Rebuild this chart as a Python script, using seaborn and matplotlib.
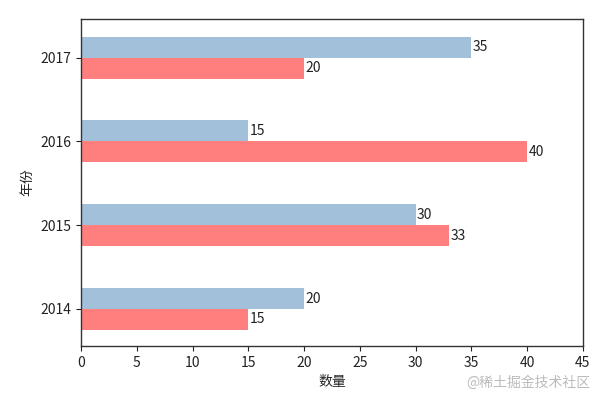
import matplotlib
matplotlib.use('Agg')
import matplotlib.pyplot as plt
import seaborn as sns
import pandas as pd

# chart values
years = ['2014', '2015', '2016', '2017']
series_a = [20, 30, 15, 35]   # blue bars (upper)
series_b = [15, 33, 40, 20]   # red bars (lower)
x_ticks = [0, 5, 10, 15, 20, 25, 30, 35, 40, 45]

sns.set_style('ticks')
plt.rcParams['font.family'] = ['Noto Sans CJK SC', 'DejaVu Sans']
plt.rcParams['axes.unicode_minus'] = False

df = pd.DataFrame({
    '年份': years * 2,
    '数量': series_a + series_b,
    '系列': ['A'] * len(years) + ['B'] * len(years),
})

fig, ax = plt.subplots(figsize=(5.96, 3.98), dpi=100)
fig.subplots_adjust(left=0.136, right=0.978, top=0.952, bottom=0.131)

sns.barplot(data=df, x='数量', y='年份', hue='系列', orient='h',
            order=years[::-1], hue_order=['A', 'B'],
            palette=['#A2C0DA', '#FF7F7F'], saturation=1,
            width=0.5, linewidth=0, legend=False, ax=ax)

for c in ax.containers:
    ax.bar_label(c, padding=1, fontsize=10, color='#222222')

ax.set_xlim(0, 45)
ax.set_xticks(x_ticks)
ax.set_ylim(3.44, -0.46)
ax.set_xlabel('数量', fontsize=10)
ax.set_ylabel('年份', fontsize=10)
ax.tick_params(labelsize=10, colors='#222222')
for s in ax.spines.values():
    s.set_color('#333333')
    s.set_linewidth(1.0)

fig.text(0.99, 0.02, '@稀土掘金技术社区', ha='right', va='bottom',
         color='#bbbbbb', fontsize=10)

fig.savefig('out.png', dpi=100)
